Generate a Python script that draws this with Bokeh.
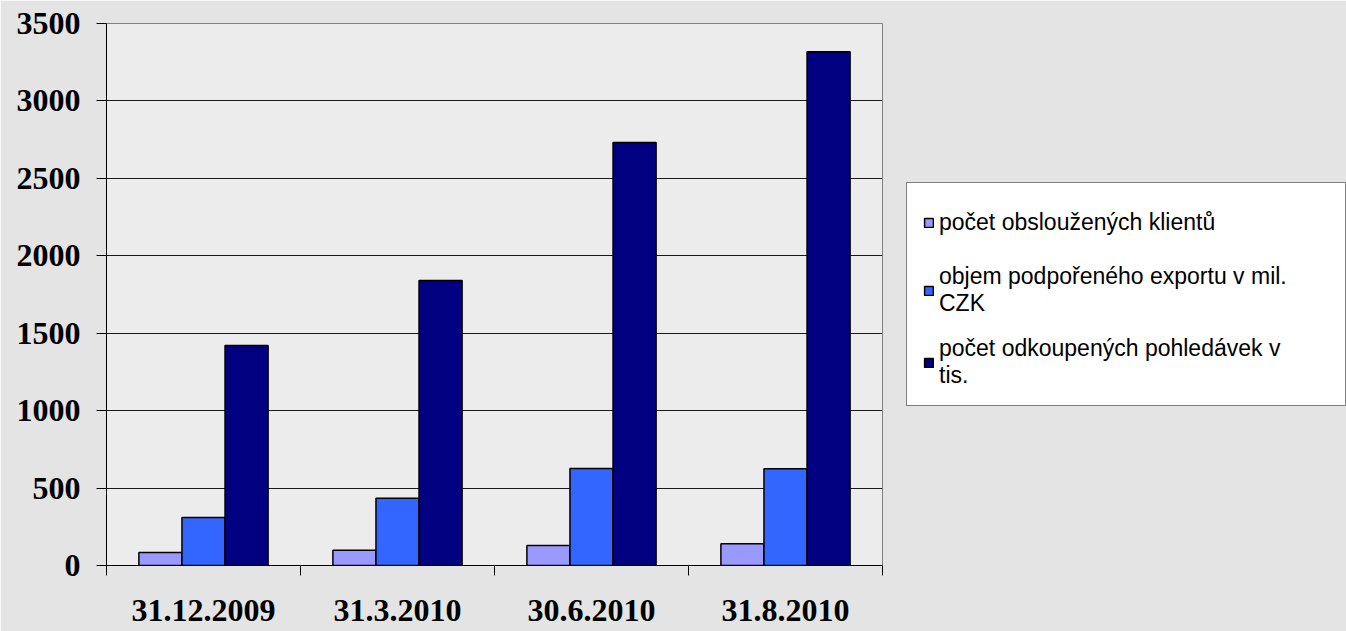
from bokeh.plotting import figure
from bokeh.models import Legend, LegendItem, FixedTicker, Range1d, ColumnDataSource
from bokeh.embed import file_html
from bokeh.resources import INLINE

categories = ["31.12.2009", "31.3.2010", "30.6.2010", "31.8.2010"]
series_names = [
    "počet obsloužených klientů",
    "objem podpořeného exportu v mil.\nCZK",
    "počet odkoupených pohledávek v\ntis.",
]
klienti = [84, 99, 129, 140]
export = [310, 434, 626, 624]
pohledavky = [1420, 1840, 2731, 3318]
colors = ["#9999FF", "#3366FF", "#000080"]
y_ticks = [0, 500, 1000, 1500, 2000, 2500, 3000, 3500]

series = [klienti, export, pohledavky]
n = len(categories)
bar_w = 0.222

p = figure(
    frame_width=776, frame_height=542,
    x_range=Range1d(0, n), y_range=Range1d(0, 3500),
    output_backend="svg", toolbar_location=None,
    min_border_left=106, min_border_top=23, min_border_bottom=66, min_border_right=440,
    background_fill_color="#ececec", border_fill_color="#e4e4e4",
)
p.outline_line_color = "#808080"
p.xgrid.visible = False
p.ygrid.grid_line_color = "#1a1a1a"
p.ygrid.ticker = FixedTicker(ticks=y_ticks)

items = []
for k, (vals, name, col) in enumerate(zip(series, series_names, colors)):
    src = ColumnDataSource(dict(x=[i + 0.5 + (k - 1) * bar_w for i in range(n)], top=vals))
    r = p.vbar(x="x", top="top", bottom=0, width=bar_w, source=src,
               fill_color=col, line_color="black", line_width=1.5)
    items.append(LegendItem(label=name, renderers=[r]))

# y axis
p.yaxis.ticker = FixedTicker(ticks=y_ticks)
p.yaxis.axis_line_color = "black"
p.yaxis.major_tick_line_color = "black"
p.yaxis.major_tick_out = 10
p.yaxis.major_tick_in = 0
p.yaxis.minor_tick_line_color = None
p.yaxis.major_label_text_font = "Liberation Serif"
p.yaxis.major_label_text_font_style = "bold"
p.yaxis.major_label_text_font_size = "32px"
p.yaxis.major_label_text_color = "black"
p.yaxis.major_label_standoff = 16

# x axis: labels at centers, ticks at category boundaries
p.xaxis.ticker = FixedTicker(ticks=[i + 0.5 for i in range(n)], minor_ticks=list(range(n + 1)))
p.xaxis.major_label_overrides = {i + 0.5: c for i, c in enumerate(categories)}
p.xaxis.axis_line_color = "black"
p.xaxis.major_tick_line_color = None
p.xaxis.major_tick_out = 0
p.xaxis.major_tick_in = 0
p.xaxis.minor_tick_line_color = "black"
p.xaxis.minor_tick_out = 10
p.xaxis.minor_tick_in = 0
p.xaxis.major_label_text_font = "Liberation Serif"
p.xaxis.major_label_text_font_style = "bold"
p.xaxis.major_label_text_font_size = "32px"
p.xaxis.major_label_text_color = "black"
p.xaxis.major_label_standoff = 24

legend = Legend(items=items, location="left")
legend.label_text_font = "Liberation Sans"
legend.label_text_font_size = "23px"
legend.label_text_color = "black"
legend.glyph_width = 11
legend.glyph_height = 11
legend.label_standoff = 5
legend.label_width = 390
legend.label_height = 46
legend.padding = 16
legend.spacing = 18
legend.margin = 24
legend.border_line_color = "black"
legend.border_line_width = 1
legend.background_fill_color = "white"
legend.background_fill_alpha = 1.0
p.add_layout(legend, "right")

open("out.html", "w").write(file_html(p, INLINE))
